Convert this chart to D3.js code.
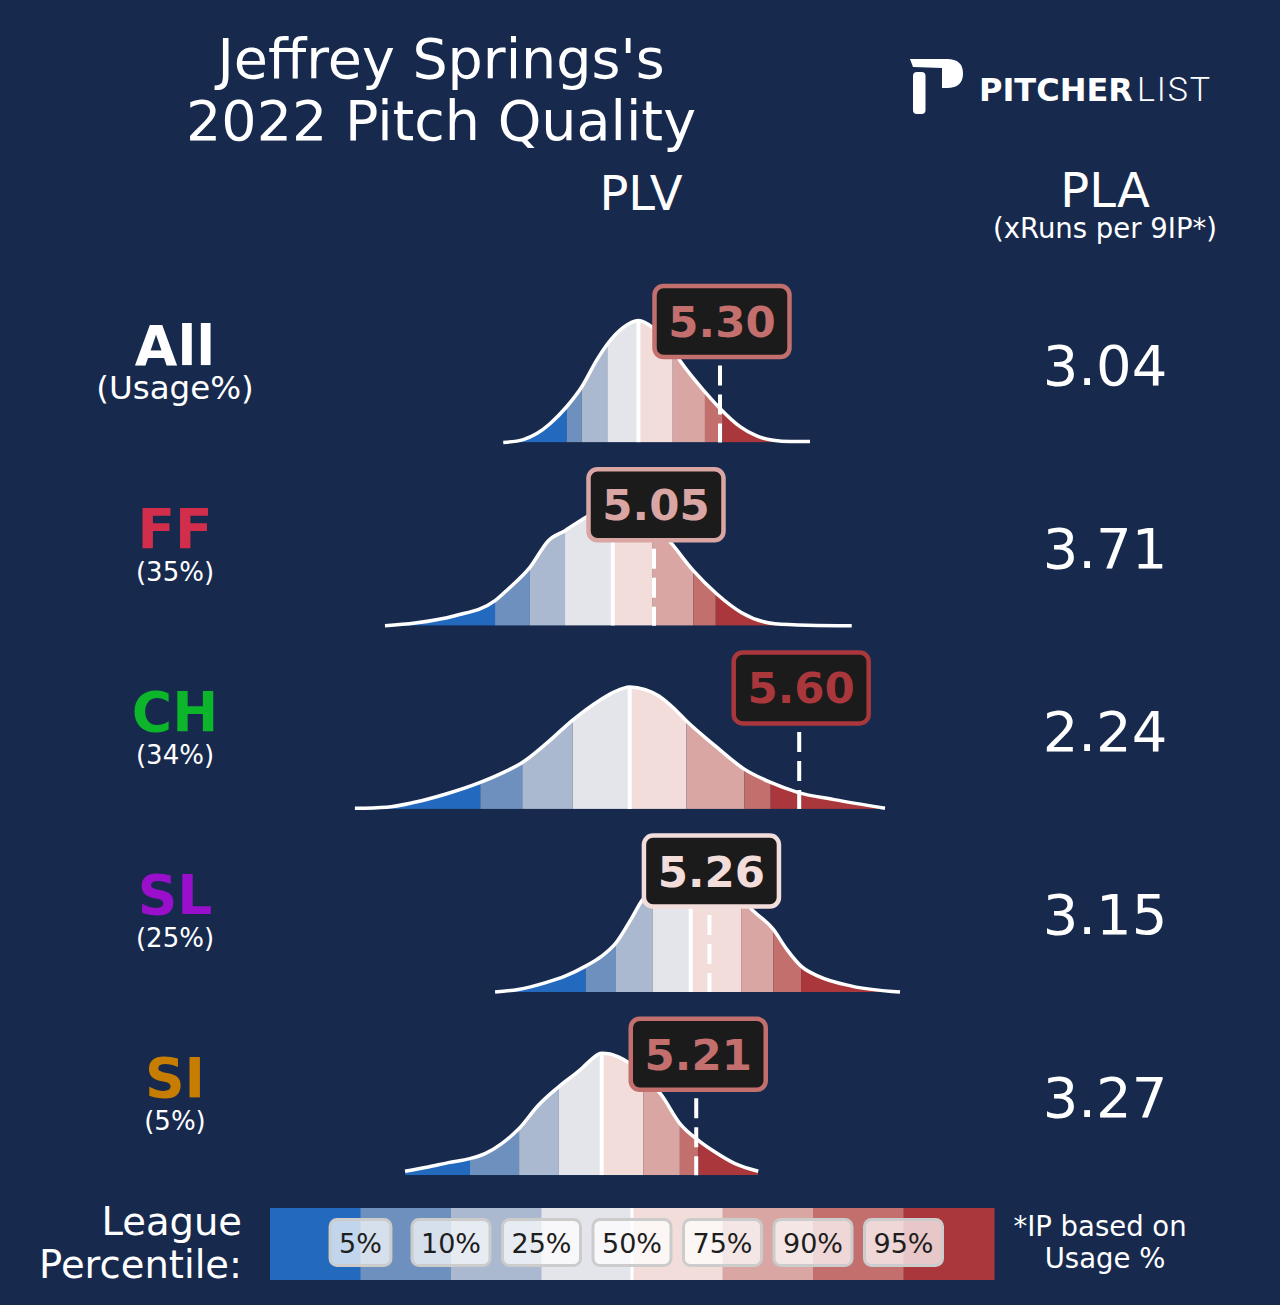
<!DOCTYPE html>
<html>
<head>
<meta charset="utf-8">
<script src="https://cdn.jsdelivr.net/npm/d3@7"></script>
<style>
  html, body { margin: 0; padding: 0; background: #172a4e; }
  svg { display: block; font-family: "DejaVu Sans", sans-serif; }
</style>
</head>
<body>
<svg id="chart" width="1280" height="1305"></svg>
<script>
// ---- data ----
const pitchTypes = ["All", "FF", "CH", "SL", "SI"];
const usageLabels = ["(Usage%)", "(35%)", "(34%)", "(25%)", "(5%)"];
const pitchColors = ["#ffffff", "#d22e4c", "#0cb52a", "#9a0fcc", "#c77d00"];
const plvValues = [5.30, 5.05, 5.60, 5.26, 5.21];
const plaValues = ["3.04", "3.71", "2.24", "3.15", "3.27"];

const pctLabels = ["5%", "10%", "25%", "50%", "75%", "90%", "95%"];
const bandColors = ["#2369bd", "#6e90bf", "#aab8d0", "#e4e5eb", "#f2dddb", "#d9a6a4", "#c26f6d", "#a9373b"];

// league percentile cut points (PLV) for each pitch type
const pctAll = [4.719, 4.776, 4.873, 4.991, 5.121, 5.243, 5.310];
const pctFF  = [4.448, 4.580, 4.713, 4.894, 5.045, 5.199, 5.284];
const pctCH  = [4.392, 4.551, 4.742, 4.958, 5.173, 5.392, 5.492];
const pctSL  = [4.791, 4.906, 5.044, 5.189, 5.380, 5.502, 5.607];
const pctSI  = [4.353, 4.539, 4.688, 4.852, 5.009, 5.148, 5.218];

// league density curves: [PLV, relative density]
const densAll = [[4.479,0],[4.555,.024],[4.606,.073],[4.656,.154],[4.719,.293],[4.776,.455],[4.833,.675],
  [4.873,.805],[4.934,.943],[4.991,1],[5.047,.94],[5.121,.76],[5.148,.672],[5.243,.415],[5.300,.279],
  [5.376,.13],[5.439,.054],[5.502,.018],[5.565,.008],[5.641,.008]];
const densFF = [[4.031,0],[4.145,.022],[4.296,.082],[4.448,.205],[4.498,.301],[4.580,.478],[4.650,.697],
  [4.713,.779],[4.789,.885],[4.895,1],[5.003,.943],[5.117,.672],[5.199,.451],[5.287,.262],[5.382,.107],
  [5.508,.016],[5.634,.004],[5.799,0]];
const densCH = [[3.917,.005],[4.037,.014],[4.143,.054],[4.262,.122],[4.392,.217],[4.474,.293],[4.551,.38],
  [4.646,.543],[4.742,.728],[4.845,.891],[4.898,.957],[4.958,1],[5.017,.978],[5.070,.924],[5.123,.829],
  [5.173,.72],[5.282,.516],[5.392,.326],[5.492,.217],[5.594,.136],[5.733,.076],[5.925,.005]];
const densSL = [[4.448,0],[4.536,.022],[4.637,.076],[4.713,.131],[4.791,.213],[4.852,.295],[4.906,.404],
  [4.966,.609],[5.003,.746],[5.073,.9],[5.186,1],[5.300,.92],[5.376,.78],[5.420,.678],[5.502,.514],
  [5.553,.35],[5.607,.213],[5.672,.131],[5.799,.049],[5.982,0]];
const densSI = [[4.107,.033],[4.195,.068],[4.271,.104],[4.353,.137],[4.410,.178],[4.473,.26],[4.539,.383],
  [4.612,.574],[4.688,.724],[4.776,.875],[4.810,.945],[4.852,1],[4.883,.995],[4.915,.97],[4.997,.85],
  [5.079,.656],[5.148,.424],[5.218,.287],[5.281,.191],[5.357,.096],[5.445,.033]];

const pctCuts = [pctAll, pctFF, pctCH, pctSL, pctSI];
const densities = [densAll, densFF, densCH, densSL, densSI];

// ---- drawing ----
const svg = d3.select("#chart");
const W = 1280, H = 1305;
svg.append("rect").attr("width", W).attr("height", H).attr("fill", "#172a4e");

const x = d3.scaleLinear().domain([4.0, 6.0]).range([376.8, 904.8]);
const rowY = d3.scaleLinear().domain([0, 4]).range([442.5, 1175.3]);
const y = d3.scaleLinear().domain([0, 1]).range([0, -122]);

// title
const title = svg.append("text").attr("fill", "white")
  .attr("font-size", 55.5).attr("text-anchor", "middle");
title.append("tspan").attr("x", 441).attr("y", 78).text("Jeffrey Springs's");
title.append("tspan").attr("x", 441).attr("y", 140).text("2022 Pitch Quality");

// logo
const logo = svg.append("g").attr("fill", "white");
logo.append("path").attr("d", "M910,59 L947,59 Q963,59 963,73.5 Q963,88 947,88 L942,88 L942,68 L913,67 Z");
logo.append("rect").attr("x", 913).attr("y", 72).attr("width", 12.5).attr("height", 42).attr("rx", 4);
logo.append("text").attr("x", 979).attr("y", 101)
  .attr("font-weight", 700).attr("font-size", 32).text("PITCHER");
logo.append("text").attr("x", 1137).attr("y", 101).attr("font-family", "Roboto, sans-serif")
  .attr("font-weight", 300).attr("font-size", 34).attr("textLength", 73).attr("lengthAdjust", "spacing")
  .text("LIST");

// column headers
svg.append("text").attr("x", 641).attr("y", 210).attr("text-anchor", "middle")
  .attr("fill", "white").attr("font-size", 48).text("PLV");
svg.append("text").attr("x", 1105).attr("y", 207).attr("text-anchor", "middle")
  .attr("fill", "white").attr("font-size", 48).text("PLA");
svg.append("text").attr("x", 1105).attr("y", 238).attr("text-anchor", "middle")
  .attr("fill", "white").attr("font-size", 27.5).text("(xRuns per 9IP*)");

const defs = svg.append("defs");
const area = d3.area().x(d => x(d[0])).y0(0).y1(d => y(d[1])).curve(d3.curveMonotoneX);
const line = d3.line().x(d => x(d[0])).y(d => y(d[1])).curve(d3.curveMonotoneX);

pitchTypes.forEach((pt, i) => {
  const base = rowY(i);
  const dens = densities[i];
  const cuts = pctCuts[i];
  const g = svg.append("g").attr("transform", `translate(0,${base})`);

  // left labels
  svg.append("text").attr("x", 175).attr("y", base - 78).attr("text-anchor", "middle")
    .attr("fill", pitchColors[i]).attr("font-weight", "bold").attr("font-size", 55).text(pt);
  svg.append("text").attr("x", 175).attr("y", base - (i === 0 ? 44 : 45)).attr("text-anchor", "middle")
    .attr("fill", "white").attr("font-size", i === 0 ? 32.5 : 26).text(usageLabels[i]);

  // PLA
  svg.append("text").attr("x", 1105).attr("y", base - 58).attr("text-anchor", "middle")
    .attr("fill", "white").attr("font-size", 56).text(plaValues[i]);

  // density with percentile bands
  defs.append("clipPath").attr("id", "clip" + i).append("path").attr("d", area(dens));
  const edges = [dens[0][0], ...cuts, dens[dens.length - 1][0]];
  g.selectAll(".band").data(bandColors).enter().append("rect")
    .attr("x", (c, k) => x(edges[k]))
    .attr("width", (c, k) => x(edges[k + 1]) - x(edges[k]))
    .attr("y", -140).attr("height", 140)
    .attr("fill", c => c)
    .attr("clip-path", `url(#clip${i})`);
  g.append("line").attr("x1", x(cuts[3])).attr("x2", x(cuts[3]))
    .attr("y1", 0).attr("y2", -140).attr("stroke", "white").attr("stroke-width", 4)
    .attr("clip-path", `url(#clip${i})`);
  g.append("path").attr("d", line(dens)).attr("fill", "none")
    .attr("stroke", "white").attr("stroke-width", 3.5);

  // pitcher value marker
  const v = plvValues[i];
  const col = bandColors[d3.bisectRight(cuts, v)];
  g.append("line").attr("x1", x(v)).attr("x2", x(v)).attr("y1", -77).attr("y2", 0)
    .attr("stroke", "white").attr("stroke-width", 4).attr("stroke-dasharray", "20,9");
  const lab = g.append("g").attr("transform", `translate(${x(v) + 2},-121)`);
  lab.append("rect").attr("x", -67.5).attr("y", -35.5).attr("width", 135).attr("height", 71)
    .attr("rx", 9).attr("fill", "#1b1b1b").attr("stroke", col).attr("stroke-width", 4.5);
  lab.append("text").attr("y", 15.5).attr("text-anchor", "middle").attr("fill", col)
    .attr("font-weight", "bold").attr("font-size", 43.5).text(v.toFixed(2));
});

// legend
const lx = d3.scaleLinear().domain([0, 8]).range([270, 994]);
svg.selectAll(".leg").data(bandColors).enter().append("rect")
  .attr("x", (c, k) => lx(k)).attr("width", (c, k) => lx(k + 1) - lx(k) + 0.5)
  .attr("y", 1208).attr("height", 72).attr("fill", c => c);
svg.append("line").attr("x1", lx(4)).attr("x2", lx(4)).attr("y1", 1208).attr("y2", 1280)
  .attr("stroke", "white").attr("stroke-width", 3);
pctLabels.forEach((t, k) => {
  const gg = svg.append("g").attr("transform", `translate(${lx(k + 1)},1242.5)`);
  const r = gg.append("rect");
  const tx = gg.append("text").attr("y", 10).attr("text-anchor", "middle")
    .attr("fill", "#1e1e1e").attr("font-size", 27).text(t);
  const bb = tx.node().getBBox();
  r.attr("x", bb.x - 9).attr("y", -23).attr("width", bb.width + 18).attr("height", 46)
    .attr("rx", 7).attr("fill", "white").attr("fill-opacity", 0.72)
    .attr("stroke", "#cccccc").attr("stroke-width", 3);
});
svg.append("text").attr("x", 242).attr("y", 1235).attr("text-anchor", "end")
  .attr("fill", "white").attr("font-size", 38.5).text("League");
svg.append("text").attr("x", 242).attr("y", 1278).attr("text-anchor", "end")
  .attr("fill", "white").attr("font-size", 38.5).text("Percentile:");
svg.append("text").attr("x", 1100).attr("y", 1236).attr("text-anchor", "middle")
  .attr("fill", "white").attr("font-size", 27.5).text("*IP based on");
svg.append("text").attr("x", 1105).attr("y", 1268).attr("text-anchor", "middle")
  .attr("fill", "white").attr("font-size", 27.5).text("Usage %");
</script>
</body>
</html>
